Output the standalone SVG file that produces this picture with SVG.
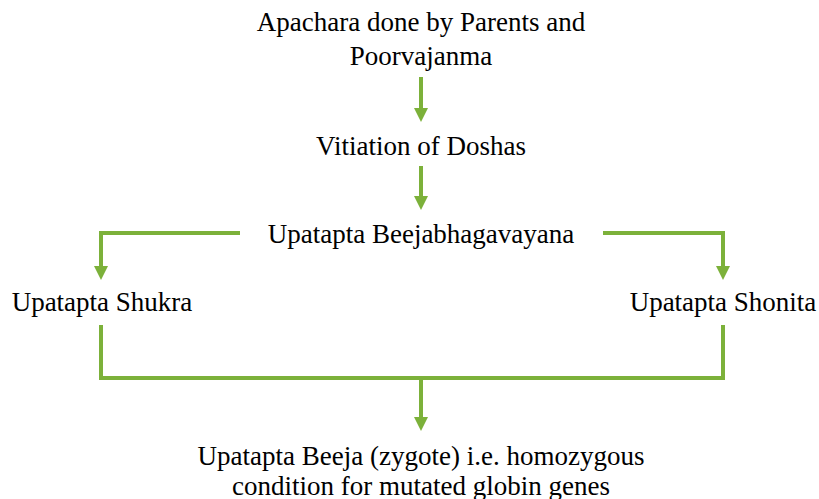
<svg xmlns="http://www.w3.org/2000/svg" width="819" height="499" viewBox="0 0 819 499">
<defs>
<style>
text{font-family:"Liberation Serif","Times New Roman",serif;font-size:27px;fill:#000;text-anchor:middle}
.c{fill:none;stroke:#7cb13a;stroke-width:4}
.h{fill:#7cb13a}
</style>
</defs>
<rect width="819" height="499" fill="#fff"/>
<g id="connectors">
<path class="c" d="M421,77 V108" />
<path class="h" d="M414,108 L428,108 L421,122 Z"/>
<path class="c" d="M421,166 V196" />
<path class="h" d="M414,196 L428,196 L421,210 Z"/>
<path class="c" d="M240,233 H101 V266" />
<path class="h" d="M94,266 L108,266 L101,280 Z"/>
<path class="c" d="M603,233 H723 V266" />
<path class="h" d="M716,266 L730,266 L723,280 Z"/>
<path class="c" d="M101,325 V378 H723 V325" />
<path class="c" d="M421,378 V417" />
<path class="h" d="M414,417 L428,417 L421,431 Z"/>
</g>
<g id="n1"><text x="421" y="31">Apachara done by Parents and</text><text x="421" y="65">Poorvajanma</text></g>
<g id="n2"><text x="421" y="155">Vitiation of Doshas</text></g>
<g id="n3"><text x="421" y="243">Upatapta Beejabhagavayana</text></g>
<g id="n4"><text x="102" y="311">Upatapta Shukra</text></g>
<g id="n5"><text x="723" y="311">Upatapta Shonita</text></g>
<g id="n6"><text x="421" y="465">Upatapta Beeja (zygote) i.e. homozygous</text><text x="421" y="495">condition for mutated globin genes</text></g>
</svg>
